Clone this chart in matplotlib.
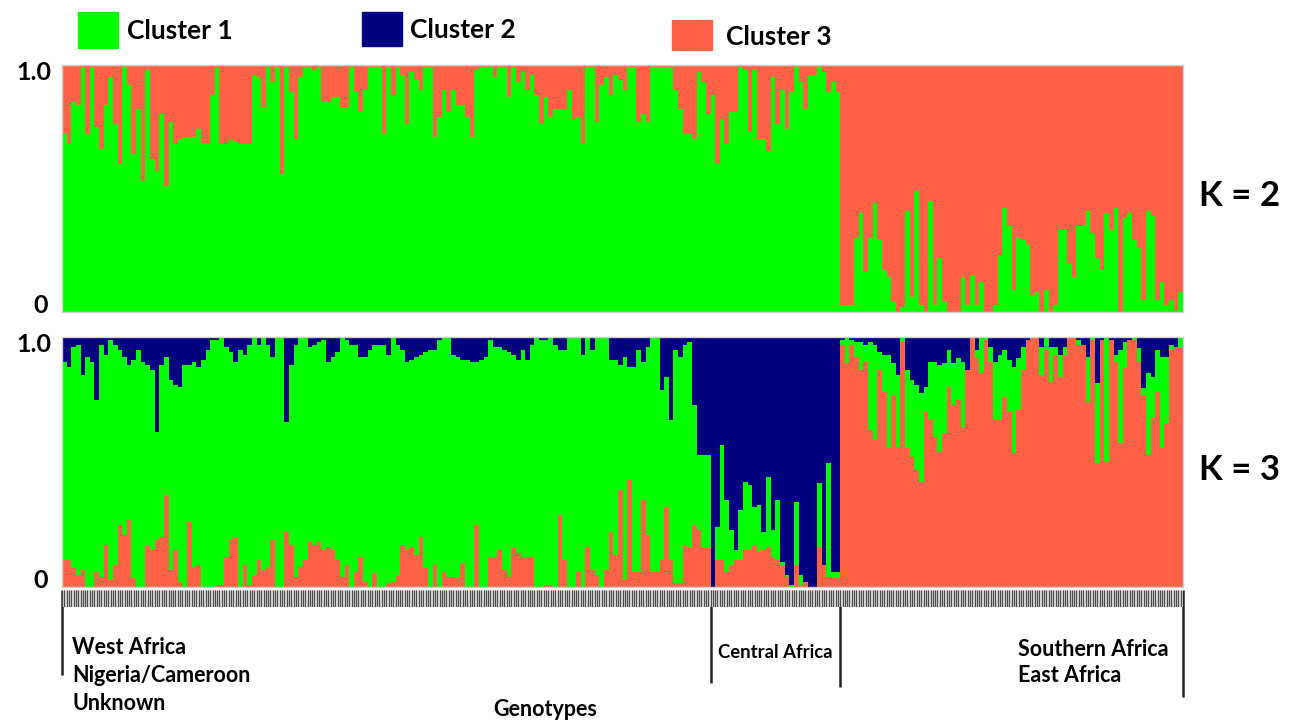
import numpy as np
import matplotlib
matplotlib.use("Agg")
import matplotlib.pyplot as plt
from matplotlib.patches import Rectangle

plt.rcParams['font.family'] = ['Lato', 'DejaVu Sans']
plt.rcParams['font.weight'] = 'bold'

W, H = 1300, 722

# colours of the three clusters
GREEN = '#00ff00'
NAVY = '#000080'
RED = '#ff6347'

# K = 2 : membership in cluster 1 (green), rest is cluster 3 (red)
k2_c1 = [
    0.72, 0.68, 0.85, 0.84, 0.99, 0.72, 0.99, 0.75, 0.66, 0.84,
    0.95, 0.76, 0.60, 0.99, 0.92, 0.64, 0.82, 0.53, 0.98, 0.62,
    0.57, 0.80, 0.51, 0.77, 0.68, 0.70, 0.71, 0.71, 0.71, 0.74,
    0.68, 0.68, 0.88, 0.99, 0.68, 0.68, 0.70, 0.69, 0.68, 0.68,
    0.68, 0.96, 0.95, 0.83, 0.99, 0.93, 0.99, 0.56, 0.99, 0.89,
    0.70, 0.95, 0.99, 0.99, 0.98, 0.99, 0.85, 0.85, 0.87, 0.87,
    0.83, 0.83, 0.99, 0.89, 0.81, 0.90, 0.99, 0.99, 0.99, 0.72,
    0.99, 0.88, 0.99, 0.96, 0.76, 0.97, 0.94, 0.90, 0.99, 0.99,
    0.71, 0.79, 0.90, 0.81, 0.90, 0.84, 0.84, 0.79, 0.71, 0.98,
    0.99, 0.99, 0.99, 0.95, 0.99, 0.99, 0.87, 0.99, 0.93, 0.97,
    0.90, 0.96, 0.88, 0.76, 0.87, 0.79, 0.82, 0.82, 0.82, 0.90,
    0.78, 0.79, 0.68, 0.99, 0.99, 0.77, 0.92, 0.95, 0.88, 0.96,
    0.94, 0.90, 0.99, 0.99, 0.77, 0.80, 0.77, 0.99, 0.99, 0.99,
    0.99, 0.99, 0.90, 0.82, 0.72, 0.72, 0.70, 0.97, 0.93, 0.80,
    0.88, 0.60, 0.78, 0.68, 0.81, 0.81, 0.99, 0.98, 0.73, 0.98,
    0.70, 0.70, 0.65, 0.95, 0.76, 0.90, 0.74, 0.89, 0.99, 0.93,
    0.82, 0.96, 0.96, 0.99, 0.97, 0.89, 0.93, 0.89,
    0.03, 0.03, 0.03, 0.30, 0.40, 0.16, 0.30, 0.44, 0.29, 0.17,
    0.14, 0.04, 0.00, 0.02, 0.41, 0.06, 0.49, 0.03, 0.00, 0.45,
    0.03, 0.22, 0.04, 0.00, 0.00, 0.00, 0.14, 0.03, 0.15, 0.03,
    0.12, 0.00, 0.00, 0.03, 0.23, 0.42, 0.35, 0.09, 0.30, 0.29,
    0.27, 0.07, 0.08, 0.00, 0.09, 0.00, 0.03, 0.33, 0.33, 0.20,
    0.14, 0.35, 0.35, 0.41, 0.32, 0.22, 0.17, 0.40, 0.33, 0.42,
    0.00, 0.38, 0.40, 0.29, 0.26, 0.05, 0.41, 0.39, 0.05, 0.12,
    0.03, 0.05, 0.01, 0.08,
]

# K = 3 : cluster 2 (navy, top) and cluster 3 (red, bottom); green is the rest
k3_c2 = [
    0.10, 0.12, 0.04, 0.03, 0.15, 0.08, 0.10, 0.25, 0.03, 0.07,
    0.01, 0.03, 0.05, 0.08, 0.11, 0.09, 0.05, 0.10, 0.11, 0.13,
    0.38, 0.11, 0.08, 0.17, 0.19, 0.20, 0.11, 0.11, 0.10, 0.12,
    0.09, 0.05, 0.01, 0.01, 0.00, 0.04, 0.06, 0.10, 0.05, 0.07,
    0.03, 0.00, 0.03, 0.00, 0.03, 0.08, 0.00, 0.00, 0.34, 0.11,
    0.03, 0.00, 0.00, 0.04, 0.03, 0.02, 0.01, 0.10, 0.08, 0.06,
    0.00, 0.01, 0.03, 0.03, 0.08, 0.08, 0.05, 0.03, 0.03, 0.03,
    0.07, 0.00, 0.03, 0.05, 0.10, 0.09, 0.08, 0.07, 0.06, 0.05,
    0.05, 0.01, 0.00, 0.00, 0.07, 0.08, 0.09, 0.09, 0.10, 0.10,
    0.09, 0.08, 0.01, 0.04, 0.04, 0.05, 0.06, 0.07, 0.09, 0.05,
    0.09, 0.03, 0.00, 0.01, 0.01, 0.00, 0.03, 0.05, 0.05, 0.00,
    0.00, 0.00, 0.07, 0.00, 0.05, 0.00, 0.00, 0.00, 0.09, 0.09,
    0.11, 0.08, 0.12, 0.12, 0.05, 0.10, 0.04, 0.00, 0.00, 0.21,
    0.16, 0.33, 0.05, 0.08, 0.03, 0.02, 0.27, 0.47, 0.47, 0.47,
    1.00, 0.76, 0.43, 0.65, 0.77, 0.85, 0.69, 0.58, 0.59, 0.68,
    0.67, 0.78, 0.56, 0.77, 0.65, 0.90, 0.95, 0.99, 0.66, 0.95,
    0.98, 1.00, 1.00, 0.585, 0.91, 0.505, 0.94, 0.94,
    0.01, 0.00, 0.01, 0.02, 0.02, 0.03, 0.02, 0.03, 0.06, 0.07,
    0.07, 0.105, 0.15, 0.00, 0.13, 0.17, 0.19, 0.225, 0.20, 0.10,
    0.10, 0.11, 0.105, 0.05, 0.105, 0.085, 0.10, 0.13, 0.00, 0.05,
    0.00, 0.00, 0.04, 0.10, 0.07, 0.05, 0.09, 0.12, 0.085, 0.04,
    0.01, 0.00, 0.00, 0.04, 0.00, 0.04, 0.04, 0.07, 0.04, 0.00,
    0.00, 0.01, 0.05, 0.08, 0.00, 0.185, 0.01, 0.00, 0.01, 0.07,
    0.05, 0.02, 0.01, 0.00, 0.045, 0.205, 0.145, 0.16, 0.05, 0.08,
    0.08, 0.03, 0.04, 0.00,
]

k3_c3 = [
    0.11, 0.11, 0.075, 0.05, 0.07, 0.00, 0.00, 0.06, 0.04, 0.17,
    0.03, 0.09, 0.25, 0.21, 0.27, 0.035, 0.00, 0.00, 0.17, 0.15,
    0.19, 0.20, 0.37, 0.07, 0.15, 0.02, 0.00, 0.26, 0.08, 0.09,
    0.00, 0.00, 0.00, 0.01, 0.01, 0.12, 0.19, 0.20, 0.00, 0.09,
    0.01, 0.05, 0.11, 0.07, 0.08, 0.19, 0.00, 0.00, 0.22, 0.17,
    0.04, 0.08, 0.11, 0.18, 0.17, 0.18, 0.15, 0.16, 0.15, 0.11,
    0.04, 0.09, 0.00, 0.06, 0.12, 0.02, 0.00, 0.055, 0.00, 0.00,
    0.015, 0.02, 0.05, 0.17, 0.15, 0.16, 0.13, 0.20, 0.075, 0.00,
    0.09, 0.00, 0.06, 0.04, 0.04, 0.035, 0.095, 0.00, 0.00, 0.25,
    0.00, 0.00, 0.12, 0.12, 0.15, 0.07, 0.04, 0.155, 0.135, 0.12,
    0.12, 0.12, 0.00, 0.00, 0.01, 0.01, 0.00, 0.29, 0.11, 0.00,
    0.00, 0.06, 0.00, 0.16, 0.07, 0.05, 0.00, 0.07, 0.22, 0.13,
    0.39, 0.03, 0.43, 0.06, 0.06, 0.35, 0.21, 0.06, 0.06, 0.11,
    0.32, 0.11, 0.015, 0.015, 0.17, 0.155, 0.25, 0.23, 0.155, 0.155,
    0.00, 0.11, 0.11, 0.06, 0.09, 0.11, 0.11, 0.15, 0.15, 0.17,
    0.14, 0.15, 0.16, 0.12, 0.11, 0.09, 0.04, 0.00, 0.09, 0.01,
    0.02, 0.00, 0.00, 0.16, 0.09, 0.04, 0.04, 0.035,
    0.97, 0.895, 0.97, 0.92, 0.87, 0.90, 0.63, 0.59, 0.87, 0.78,
    0.555, 0.77, 0.56, 0.98, 0.555, 0.52, 0.47, 0.42, 0.70, 0.67,
    0.60, 0.54, 0.615, 0.80, 0.73, 0.75, 0.64, 0.87, 1.00, 0.915,
    0.855, 0.99, 0.90, 0.67, 0.67, 0.76, 0.70, 0.535, 0.71, 0.87,
    0.99, 1.00, 1.00, 0.85, 0.95, 0.82, 0.93, 0.84, 0.93, 1.00,
    1.00, 0.97, 0.97, 0.74, 0.99, 0.495, 0.99, 0.50, 0.99, 0.90,
    0.575, 0.875, 0.99, 0.99, 0.90, 0.77, 0.53, 0.675, 0.78, 0.555,
    0.655, 0.95, 0.955, 0.955,
]

# sample groups: (label lines, first index, last index + 1)
groups = [
    (["West Africa", "Nigeria/Cameroon", "Unknown"], 0, 140),
    (["Central Africa"], 140, 168),
    (["Southern Africa", "East Africa"], 168, 242),
]
legend_labels = ["Cluster 1", "Cluster 2", "Cluster 3"]

k2_c1 = np.array(k2_c1)
k3_c2 = np.array(k3_c2)
k3_c3 = np.array(k3_c3)
k3_c1 = np.clip(1 - k3_c2 - k3_c3, 0, 1)
x = np.arange(len(k2_c1))


def fig_rect(left, top, right, bottom):
    return [left / W, 1 - bottom / H, (right - left) / W, (bottom - top) / H]


fig = plt.figure(figsize=(W / 100, H / 100), dpi=100)
fig.patch.set_facecolor('white')

ax2 = fig.add_axes(fig_rect(62, 65, 1183, 312))
ax3 = fig.add_axes(fig_rect(62, 337, 1183, 587))

ax2.bar(x, k2_c1, width=1.0, color=GREEN, linewidth=0)
ax2.bar(x, 1 - k2_c1, bottom=k2_c1, width=1.0, color=RED, linewidth=0)

ax3.bar(x, k3_c3, width=1.0, color=RED, linewidth=0)
ax3.bar(x, k3_c1, bottom=k3_c3, width=1.0, color=GREEN, linewidth=0)
ax3.bar(x, k3_c2, bottom=k3_c3 + k3_c1, width=1.0, color=NAVY, linewidth=0)

for ax in (ax2, ax3):
    ax.set_xlim(-0.5, len(x) - 0.5)
    ax.set_ylim(0, 1)
    ax.set_xticks([])
    ax.set_yticks([])
    for s in ax.spines.values():
        s.set_color('#d0d0d0')
        s.set_linewidth(1)

# y labels and K labels
for top, bottom, k in [(65, 312, "K = 2"), (337, 587, "K = 3")]:
    fig.text(51 / W, 1 - (top + 8) / H, "1.0", fontsize=18, ha='right', va='center')
    fig.text(48 / W, 1 - (bottom - 6) / H, "0", fontsize=18, ha='right', va='center')
    fig.text(1199 / W, 1 - ((top + bottom) / 2 + 8) / H, k, fontsize=25,
             ha='left', va='center')

# legend
legend_pos = [(78, 12, 48, 127, 31), (362, 12, 46, 410, 30), (672, 20, 50, 726, 37)]
for (sx, sy0, sy1, tx, ty), col, lab in zip(legend_pos, [GREEN, NAVY, RED], legend_labels):
    fig.patches.append(Rectangle((sx / W, 1 - sy1 / H), 40 / W, (sy1 - sy0) / H,
                                 transform=fig.transFigure, color=col))
    fig.text(tx / W, 1 - ty / H, lab, fontsize=19, ha='left', va='center')

# sample tick strip below the K = 3 panel
axt = fig.add_axes(fig_rect(62, 590, 1183, 607))
axt.set_xlim(-0.5, len(x) - 0.5)
axt.set_ylim(0, 1)
axt.set_facecolor('#e4e4e4')
axt.vlines(np.arange(-0.5, len(x), 0.5), 0, 1, color='#4a4a4a', linewidth=0.9)
axt.set_xticks([])
axt.set_yticks([])
for s in axt.spines.values():
    s.set_visible(False)

# group separators and labels
trans = ax3.get_xaxis_transform()
line_ends = [675, 683, 687, 697]
bounds = [groups[0][1], groups[1][1], groups[2][1], groups[2][2]]
for b, yend in zip(bounds, line_ends):
    y1 = (587 - yend) / 250
    ax3.plot([b - 0.5, b - 0.5], [-0.012, y1], color='#222222', linewidth=1.8,
             transform=trans, clip_on=False, solid_capstyle='butt')

label_specs = [
    (72, [648, 676, 703], 15.5),
    (718, [652], 13.3),
    (1018, [650, 676], 15.5),
]
for (lines, g0, g1), (tx, tys, fs) in zip(groups, label_specs):
    for line, ty in zip(lines, tys):
        fig.text(tx / W, 1 - ty / H, line, fontsize=fs, ha='left', va='center')

fig.text(493 / W, 1 - 710 / H, "Genotypes", fontsize=15.5, ha='left', va='center')

fig.savefig("out.png", dpi=100)
